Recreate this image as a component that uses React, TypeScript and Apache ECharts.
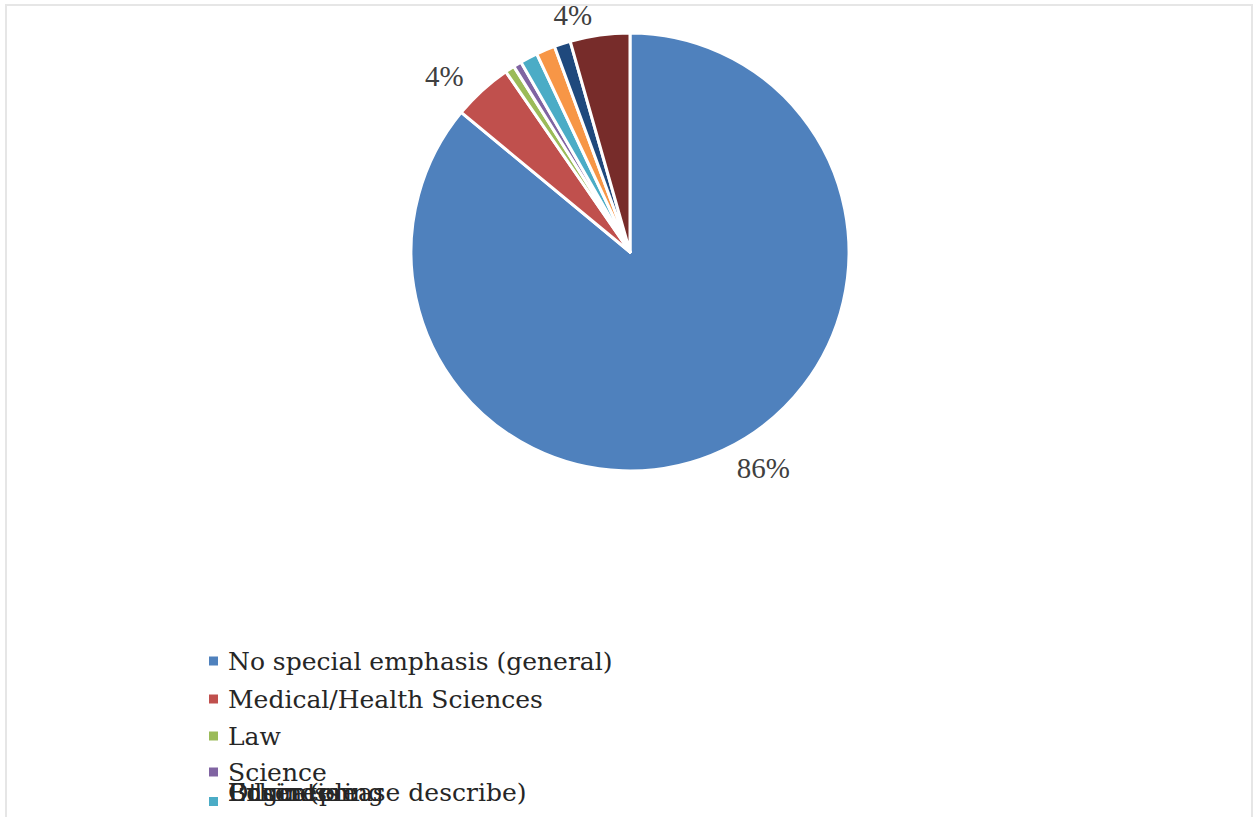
import React, { useEffect, useRef } from "react";
import * as echarts from "echarts";

// Share of respondents by programme emphasis
const categories = [
  "No special emphasis (general)",
  "Medical/Health Sciences",
  "Law",
  "Science",
  "Engineering",
  "Business",
  "Education",
  "Other (please describe)",
];
const shares = [86.0, 4.4, 0.7, 0.6, 1.3, 1.4, 1.2, 4.4];
const colors = [
  "#4F81BD",
  "#C0504D",
  "#9BBB59",
  "#8064A2",
  "#4BACC6",
  "#F79646",
  "#1F497D",
  "#772C2A",
];
// Only these slices carry a percentage label
const labelled = [true, true, false, false, false, false, false, true];

const LABEL_FONT = "Liberation Serif";
const LEGEND_FONT = "DejaVu Serif";
const LEGEND_ROWS = [661, 699, 736, 772, 808];
const OVERFLOW_ROW = 792;

export default function App() {
  const ref = useRef<HTMLDivElement>(null);

  useEffect(() => {
    if (!ref.current) return;
    const chart = echarts.init(ref.current, undefined, { renderer: "svg" });

    const baseLegend = {
      orient: "vertical" as const,
      left: 207,
      padding: 0,
      itemWidth: 11,
      itemHeight: 11,
      icon: "rect",
      selectedMode: false,
      textStyle: {
        fontFamily: LEGEND_FONT,
        fontSize: 25,
        lineHeight: 26,
        color: "#262626",
        padding: [0, 0, 0, 4],
      },
    };

    const legends: any[] = [];
    // first four rows: marker + text
    for (let i = 0; i < 4; i++) {
      legends.push({ ...baseLegend, top: LEGEND_ROWS[i] - 13, data: [categories[i]] });
    }
    // fifth row: marker only
    legends.push({
      ...baseLegend,
      top: LEGEND_ROWS[4] - 13,
      data: [categories[4]],
      formatter: () => "",
    });
    // remaining entries are squeezed onto one line
    for (let i = 4; i < categories.length; i++) {
      legends.push({
        ...baseLegend,
        top: OVERFLOW_ROW - 13,
        data: [categories[i]],
        itemStyle: { opacity: 0 },
      });
    }

    chart.setOption({
      animation: false,
      backgroundColor: "#ffffff",
      color: colors,
      graphic: [
        {
          type: "rect",
          shape: { x: 6, y: 5, width: 1246, height: 840 },
          style: { fill: "none", stroke: "#e6e6e6", lineWidth: 2 },
          silent: true,
        },
      ],
      legend: legends,
      series: [
        {
          type: "pie",
          center: [630, 252],
          radius: 219,
          startAngle: 90,
          clockwise: true,
          avoidLabelOverlap: false,
          itemStyle: { borderColor: "#ffffff", borderWidth: 3 },
          label: {
            position: "outside",
            fontFamily: LABEL_FONT,
            fontSize: 29,
            color: "#404040",
            formatter: (p: any) => Math.round(p.percent) + "%",
          },
          labelLine: { show: false, length: 20, length2: 0 },
          emphasis: { disabled: true },
          data: categories.map((name, i) => ({
            name,
            value: shares[i],
            label: { show: labelled[i] },
          })),
        },
      ],
    });

    return () => chart.dispose();
  }, []);

  return (
    <div
      ref={ref}
      style={{ position: "fixed", left: 0, top: 0, width: 1253, height: 817, background: "#fff" }}
    />
  );
}
